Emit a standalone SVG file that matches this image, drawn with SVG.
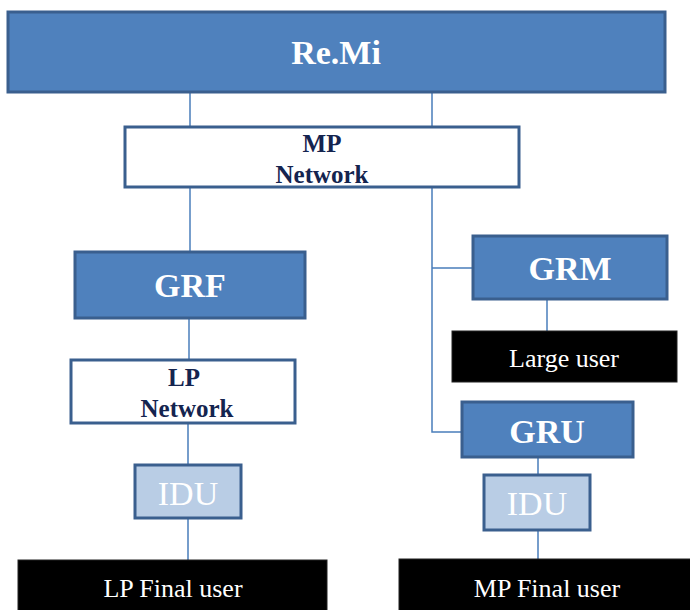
<svg xmlns="http://www.w3.org/2000/svg" width="690" height="610" viewBox="0 0 690 610">
<style>
.blue{fill:#4F81BD;stroke:#3A5F8E;stroke-width:3}
.white{fill:#FFFFFF;stroke:#3A5F8E;stroke-width:3}
.idu{fill:#B9CDE5;stroke:#3A5F8E;stroke-width:3}
.black{fill:#000000;stroke:#222;stroke-width:1}
.conn{stroke:#4A7EBB;stroke-width:1.5;fill:none}
text{font-family:"Liberation Serif","Times New Roman",serif;text-anchor:middle}
.big{font-size:34px;font-weight:bold;fill:#FFFFFF}
.net{font-size:25px;font-weight:bold;fill:#14244F}
.idut{font-size:34px;fill:#FFFFFF}
.user{font-size:26px;fill:#FFFFFF}
</style>
<g id="connectors">
<path class="conn" d="M190 92V127M432 92V127"/>
<path class="conn" d="M190 187V252"/>
<path class="conn" d="M432 187V432H462M432 268H472"/>
<path class="conn" d="M189 318V360"/>
<path class="conn" d="M188 423V465M188 518V560"/>
<path class="conn" d="M547 299V331"/>
<path class="conn" d="M538 457V475M538 530V559"/>
</g>
<g id="remi"><rect class="blue" x="8" y="12" width="657" height="80"/><text class="big" x="336" y="64">Re.Mi</text></g>
<g id="mpnet"><rect class="white" x="125" y="127" width="394" height="60"/><text class="net" x="322" y="152">MP</text><text class="net" x="322" y="183">Network</text></g>
<g id="grf"><rect class="blue" x="75" y="252" width="230" height="66"/><text class="big" x="190" y="297">GRF</text></g>
<g id="lpnet"><rect class="white" x="71" y="360" width="224" height="63"/><text class="net" x="184" y="386">LP</text><text class="net" x="187" y="417">Network</text></g>
<g id="idu1"><rect class="idu" x="135" y="465" width="106" height="53"/><text class="idut" x="188" y="505">IDU</text></g>
<g id="lpuser"><rect class="black" x="18" y="560" width="309" height="52"/><text class="user" x="173" y="597">LP Final user</text></g>
<g id="grm"><rect class="blue" x="473" y="236" width="194" height="63"/><text class="big" x="570" y="280">GRM</text></g>
<g id="large"><rect class="black" x="452" y="331" width="225" height="51"/><text class="user" x="564" y="367">Large user</text></g>
<g id="gru"><rect class="blue" x="462" y="402" width="171" height="55"/><text class="big" x="547" y="443">GRU</text></g>
<g id="idu2"><rect class="idu" x="484" y="475" width="106" height="55"/><text class="idut" x="537" y="515">IDU</text></g>
<g id="mpuser"><rect class="black" x="399" y="559" width="293" height="53"/><text class="user" x="547" y="597">MP Final user</text></g>
</svg>
